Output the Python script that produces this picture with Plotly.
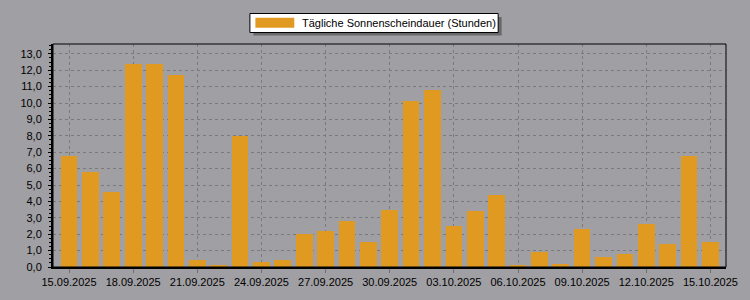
import plotly.graph_objects as go
import pandas as pd

dates = pd.date_range("2025-09-15", "2025-10-15", freq="D")
sunshine_hours = [6.8, 5.8, 4.6, 12.4, 12.4, 11.7, 0.4, 0.15, 8.0, 0.3,
                  0.45, 2.0, 2.2, 2.8, 1.5, 3.5, 10.1, 10.8, 2.5, 3.4,
                  4.4, 0.15, 0.9, 0.2, 2.3, 0.6, 0.8, 2.6, 1.4, 6.8, 1.5]
series_name = "Tägliche Sonnenscheindauer (Stunden)"

BG = "#A09FA4"
BAR = "#E09A22"
W, H = 750, 300
L, R, T, B = 53, 728, 44, 267


def px(x):
    return (x - L) / (R - L)


def py(y):
    return (B - y) / (B - T)


fig = go.Figure()
fig.add_trace(go.Bar(
    x=dates, y=sunshine_hours, name=series_name,
    marker=dict(color=BAR, line=dict(width=0)),
    width=0.78 * 86400000,
    showlegend=False,
))

shapes = [
    # plot border (thin top/right)
    dict(type="rect", xref="paper", yref="paper", x0=0, x1=1, y0=0, y1=1,
         line=dict(color="black", width=1), layer="above"),
    # legend shadow
    dict(type="rect", xref="paper", yref="paper",
         x0=px(254), x1=px(503), y0=py(17), y1=py(35.5),
         fillcolor="rgba(60,60,60,0.55)", line=dict(width=0), layer="above"),
    # legend box
    dict(type="rect", xref="paper", yref="paper",
         x0=px(250.5), x1=px(499.5), y0=py(13.5), y1=py(32.5),
         fillcolor="white", line=dict(color="black", width=1), layer="above"),
    # legend swatch
    dict(type="rect", xref="paper", yref="paper",
         x0=px(256), x1=px(295), y0=py(17.7), y1=py(27.7),
         fillcolor=BAR, line=dict(width=0), layer="above"),
]

fig.update_layout(
    width=W, height=H,
    margin=dict(l=L, r=W - R, t=T, b=H - B, pad=0),
    paper_bgcolor=BG, plot_bgcolor=BG,
    separators=",.",
    font=dict(family="Liberation Sans, Arial, sans-serif", size=11, color="black"),
    showlegend=False,
    bargap=0,
    shapes=shapes,
    annotations=[dict(
        text=series_name, xref="paper", yref="paper",
        x=px(301), y=py(23), xanchor="left", yanchor="middle",
        showarrow=False, font=dict(size=11, color="black"),
    )],
    xaxis=dict(
        type="date",
        range=[pd.Timestamp("2025-09-15") - pd.Timedelta(hours=18),
               pd.Timestamp("2025-10-15") + pd.Timedelta(hours=17.5)],
        tick0="2025-09-15", dtick=3 * 86400000,
        tickformat="%d.%m.%Y",
        showgrid=True, gridcolor="#7A7A7A", gridwidth=1, griddash="3px,3px",
        showline=True, linecolor="black", linewidth=2,
        ticks="outside", ticklen=4, tickcolor="#6E6E6E", tickwidth=1,
        zeroline=False,
    ),
    yaxis=dict(
        range=[0, 13.6],
        tick0=0, dtick=1, tickformat=".1f",
        showgrid=True, gridcolor="#7A7A7A", gridwidth=1, griddash="3px,3px",
        showline=True, linecolor="black", linewidth=2,
        ticks="outside", ticklen=3, tickcolor="black", tickwidth=1,
        minor=dict(ticks="outside", ticklen=2, dtick=0.25, tickcolor="black", showgrid=False),
        zeroline=False,
        ticklabelstandoff=4,
    ),
)

fig.write_html("out.html")
